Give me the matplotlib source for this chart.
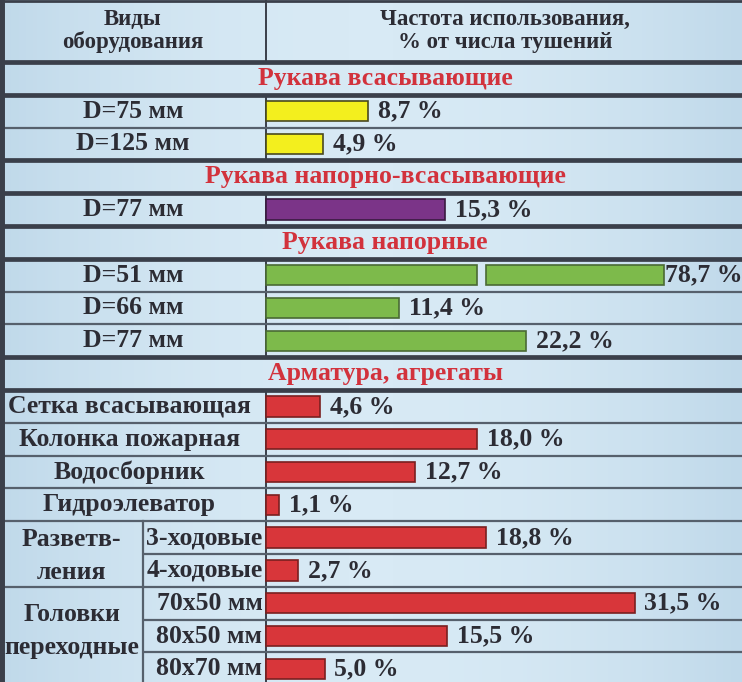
import numpy as np
import matplotlib
matplotlib.use('Agg')
from matplotlib import pyplot as plt

# --- data ---
section_titles = ["Рукава всасывающие", "Рукава напорно-всасывающие",
                  "Рукава напорные", "Арматура, агрегаты"]

suction_labels = ["D=75 мм", "D=125 мм"]
suction_values = [8.7, 4.9]

press_suction_labels = ["D=77 мм"]
press_suction_values = [15.3]

pressure_labels = ["D=51 мм", "D=66 мм", "D=77 мм"]
pressure_values = [78.7, 11.4, 22.2]

fitting_labels = ["Сетка всасывающая", "Колонка пожарная", "Водосборник", "Гидроэлеватор"]
fitting_values = [4.6, 18.0, 12.7, 1.1]

branch_group = "Разветв-\nления"
branch_labels = ["3-ходовые", "4-ходовые"]
branch_values = [18.8, 2.7]

adapter_group = "Головки\nпереходные"
adapter_labels = ["70x50 мм", "80x50 мм", "80x70 мм"]
adapter_values = [31.5, 15.5, 5.0]

header_left = "Виды\nоборудования"
header_right = "Частота использования,\n% от числа тушений"

# --- styling ---
bg = '#c9e0f0'
txt = '#2c2c34'
red_title = '#d2323c'
serif = 'Liberation Serif'
fs = 18.5
px = 11.7            # pixels per percent
col_w = 266 / px     # width of label column in percent units
right = 476 / px
sub_x = -(266 - 143) / px
cap = 398 / px       # bars longer than this are drawn broken
row_h = 0.62
title_x = (385 - 266) / px

sections = [
    (suction_labels, suction_values, '#f3ef1e', '#4a4a20'),
    (press_suction_labels, press_suction_values, '#7b3488', '#3a1a40'),
    (pressure_labels, pressure_values, '#7dba4b', '#4a6a35'),
]

fig = plt.figure(figsize=(7.42, 6.82), dpi=100)
ax = fig.add_axes([0, 0, 1, 1])
top = -62 / 32.8
bottom = (682 - 62) / 32.8
ax.set_xlim(-col_w, right)
ax.set_ylim(bottom, top)
ax.axis('off')

# soft background with lighter middle
grad = np.linspace(-1, 1, 200)
shade = 1 - 0.6 * grad ** 2
ax.imshow(shade[np.newaxis, :], cmap=matplotlib.colors.LinearSegmentedColormap.from_list(
    'bgc', ['#c0d9ea', '#d8eaf5']), extent=(-col_w, right, bottom, top),
    aspect='auto', zorder=0)


def thick(y):
    ax.plot([-col_w, right], [y, y], color='#3a3f4a', lw=3.4, zorder=3,
            solid_capstyle='butt')


def thin(y, x0=-col_w):
    ax.plot([x0, right], [y, y], color='#56606c', lw=1.6, zorder=3,
            solid_capstyle='butt')


def pct(v):
    return f"{v:.1f} %".replace('.', ',')


def bar(y, v, fc, ec):
    if v > cap:
        gap0, gap1 = cap * 0.53, cap * 0.553
        ax.barh(y, gap0, left=0, height=row_h, color=fc, edgecolor=ec, lw=1.2, zorder=4)
        ax.barh(y, cap - gap1, left=gap1, height=row_h, color=fc, edgecolor=ec, lw=1.2, zorder=4)
        ax.text(cap + 0.1, y, pct(v), ha='left', va='center', fontsize=fs,
                fontweight='bold', family=serif, color=txt, zorder=5)
    else:
        ax.barh(y, v, left=0, height=row_h, color=fc, edgecolor=ec, lw=1.2, zorder=4)
        ax.text(v + 0.85, y, pct(v), ha='left', va='center', fontsize=fs,
                fontweight='bold', family=serif, color=txt, zorder=5)


def title(y, s):
    ax.text(title_x, y, s, ha='center', va='center', fontsize=fs,
            fontweight='bold', family=serif, color=red_title)


# header
ax.plot([-col_w, right], [top + 0.03, top + 0.03], color='#3a3f4a', lw=2, zorder=3)
ax.plot([-col_w + 0.12, -col_w + 0.12], [top, bottom], color='#3a3f4a', lw=5, zorder=6)
ax.text(-col_w / 2, top / 2, header_left, ha='center', va='center', fontsize=16.5,
        fontweight='bold', family=serif, color=txt, linespacing=1.1)
ax.text((505 - 266) / px, top / 2, header_right, ha='center', va='center', fontsize=16.5,
        fontweight='bold', family=serif, color=txt, linespacing=1.1)
ax.plot([0, 0], [top, 0], color='#3a3f4a', lw=1.4, zorder=3)
thick(0)

row = 0
for k, (labels, values, fc, ec) in enumerate(sections):
    title(row + 0.5, section_titles[k])
    row += 1
    thick(row)
    ax.plot([0, 0], [row, row + len(labels)], color='#3a3f4a', lw=1.4, zorder=3)
    for i, (lab, v) in enumerate(zip(labels, values)):
        if i > 0:
            thin(row)
        ax.text(-col_w / 2, row + 0.5, lab, ha='center', va='center', fontsize=fs,
                fontweight='bold', family=serif, color=txt)
        bar(row + 0.5, v, fc, ec)
        row += 1
    thick(row)

# fittings section
red_fc, red_ec = '#d8363a', '#7a2020'
title(row + 0.5, section_titles[3])
row += 1
thick(row)
ax.plot([0, 0], [row, bottom], color='#3a3f4a', lw=1.4, zorder=3)
for i, (lab, v) in enumerate(zip(fitting_labels, fitting_values)):
    if i > 0:
        thin(row)
    ax.text(-col_w / 2 - 0.3, row + 0.5, lab, ha='center', va='center', fontsize=fs,
            fontweight='bold', family=serif, color=txt)
    bar(row + 0.5, v, red_fc, red_ec)
    row += 1

# grouped rows: (group label, labels, values, vertical nudge of group label)
for group, labels, values, dy in [(branch_group, branch_labels, branch_values, 0.05),
                                  (adapter_group, adapter_labels, adapter_values, -0.15)]:
    thin(row)
    g0 = row
    ax.plot([sub_x, sub_x], [row, min(row + len(labels), bottom)], color='#56606c',
            lw=1.6, zorder=3)
    for i, (lab, v) in enumerate(zip(labels, values)):
        if i > 0:
            thin(row, sub_x)
        ax.text(-0.3, row + 0.5, lab, ha='right', va='center', fontsize=fs,
                fontweight='bold', family=serif, color=txt)
        bar(row + 0.5, v, red_fc, red_ec)
        row += 1
    ax.text((sub_x - col_w) / 2, (g0 + row) / 2 + dy, group, ha='center', va='center',
            fontsize=fs, fontweight='bold', family=serif, color=txt, linespacing=1.55)

fig.savefig('out.png', dpi=100, facecolor=bg)
